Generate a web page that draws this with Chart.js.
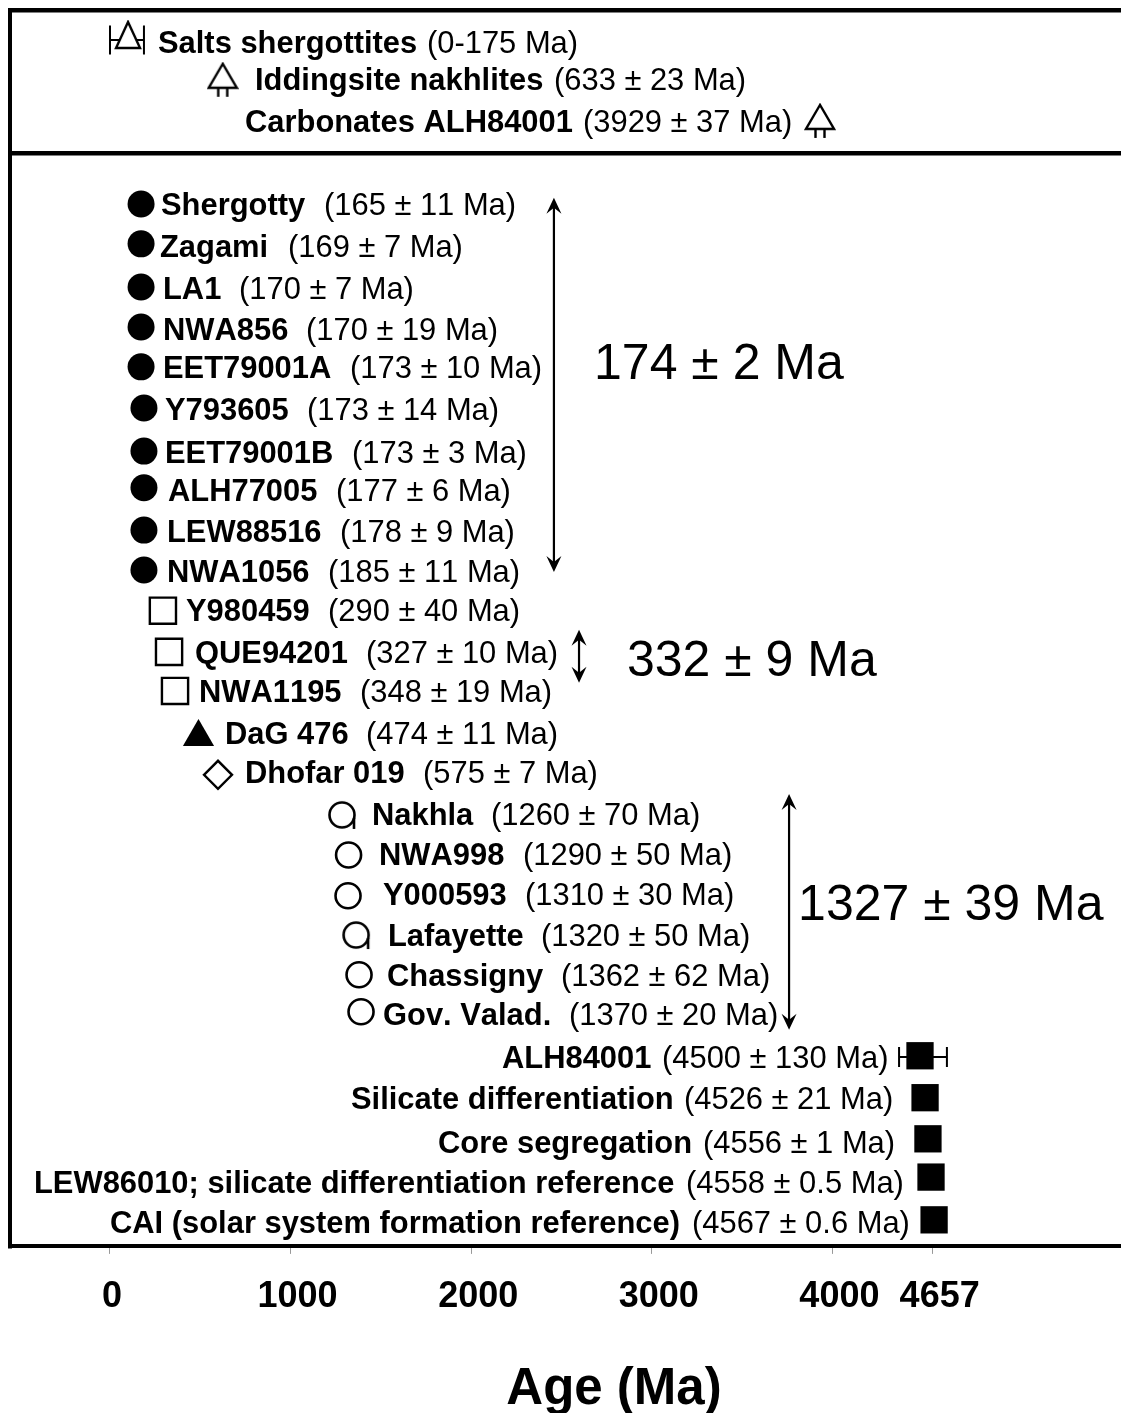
<!DOCTYPE html>
<html>
<head>
<meta charset="utf-8">
<title>Age (Ma)</title>
<script src="https://cdn.jsdelivr.net/npm/chart.js@4"></script>
<style>
    html, body { margin: 0; padding: 0; background: #fff; overflow: hidden; }
    #wrap { width: 1121px; height: 1413px; overflow: hidden; }
    canvas { display: block; }
</style>
</head>
<body>
<!-- the frame runs off the right edge of the figure, so the canvas is wider than the window -->
<div id="wrap"><canvas id="ageChart" width="1218" height="1413"></canvas></div>
<script>
// Data
const names = ['Salts shergottites', 'Iddingsite nakhlites', 'Carbonates ALH84001',
    'Shergotty', 'Zagami', 'LA1', 'NWA856', 'EET79001A', 'Y793605', 'EET79001B', 'ALH77005', 'LEW88516', 'NWA1056',
    'Y980459', 'QUE94201', 'NWA1195', 'DaG 476', 'Dhofar 019',
    'Nakhla', 'NWA998', 'Y000593', 'Lafayette', 'Chassigny', 'Gov. Valad.',
    'ALH84001', 'Silicate differentiation', 'Core segregation',
    'LEW86010; silicate differentiation reference', 'CAI (solar system formation reference)'];
const statedAges = ['(0-175 Ma)', '(633 ± 23 Ma)', '(3929 ± 37 Ma)',
    '(165 ± 11 Ma)', '(169 ± 7 Ma)', '(170 ± 7 Ma)', '(170 ± 19 Ma)', '(173 ± 10 Ma)', '(173 ± 14 Ma)', '(173 ± 3 Ma)', '(177 ± 6 Ma)', '(178 ± 9 Ma)', '(185 ± 11 Ma)',
    '(290 ± 40 Ma)', '(327 ± 10 Ma)', '(348 ± 19 Ma)', '(474 ± 11 Ma)', '(575 ± 7 Ma)',
    '(1260 ± 70 Ma)', '(1290 ± 50 Ma)', '(1310 ± 30 Ma)', '(1320 ± 50 Ma)', '(1362 ± 62 Ma)', '(1370 ± 20 Ma)',
    '(4500 ± 130 Ma)', '(4526 ± 21 Ma)', '(4556 ± 1 Ma)', '(4558 ± 0.5 Ma)', '(4567 ± 0.6 Ma)'];
const markerAges = [100, 624, 3931,
    172, 172, 172, 172, 172, 188, 188, 188, 188, 188,
    293, 327, 360, 490, 598,
    1290, 1321, 1318, 1368, 1379, 1390,
    4485, 4513, 4529, 4546, 4563];
const markerRows = [-4.15, -3.05, -2.04,
    0, 0.98, 2.04, 3.02, 4.0, 5.01, 6.07, 6.97, 8.01, 8.99,
    9.99, 11.0, 11.96, 13.09, 14.02,
    15.03, 15.99, 16.99, 17.98, 18.93, 19.84,
    20.92, 21.95, 22.96, 23.9, 24.95];
const labelRows = [-3.98, -3.07, -2.04,
    0, 1.01, 2.06, 3.05, 4.0, 5.03, 6.07, 7.0, 8.01, 8.99,
    9.97, 11.0, 11.96, 12.97, 13.95,
    14.98, 15.94, 16.94, 17.95, 18.93, 19.87,
    20.95, 21.95, 23.03, 24.02, 25.0];
const kinds = ['salt', 'tree', 'tree',
    'shergottite', 'shergottite', 'shergottite', 'shergottite', 'shergottite', 'shergottite', 'shergottite', 'shergottite', 'shergottite', 'shergottite',
    'openSquare', 'openSquare', 'openSquare', 'triangle', 'diamond',
    'tailCircle', 'openCircle', 'openCircle', 'tailCircle', 'openCircle', 'openCircle',
    'solidSquare', 'solidSquare', 'solidSquare', 'solidSquare', 'solidSquare'];

// Whiskers that stick out of their marker: [from age, to age, row]
const whiskers = [[0, 188, -4.03], [4369, 4634, 20.95]];
// Double arrows: [age, from row, to row]
const arrows = [[2458, -0.15, 9.04], [2597, 10.46, 11.76], [3760, 14.49, 20.28]];
// Group ages: [text, start age, row]
const groupLabels = [['174 ± 2 Ma', 2680, 3.89], ['332 ± 9 Ma', 2862, 11.17], ['1327 ± 39 Ma', 3810, 17.17]];

const tickValues = [0, 1000, 2000, 3000, 4000, 4555];
const tickLabels = ['0 ', '1000', '2000', '3000', '4000', '4657'];
const axisTitle = 'Age (Ma)';
const separatorRow = -1.25;
const rowMin = -4.764;
const rowMax = 25.59;
const ageMin = -553.7;
const ageMax = 6135;

// Text layout, start of each name and of each bracket
const nameX = [158, 255, 245,
    161, 160, 163, 163, 163, 165, 165, 168, 167, 167,
    186, 195, 199, 225, 245,
    372, 379, 383, 388, 387, 383,
    502, 351, 438, 34, 110];
const valueX = [427, 554, 583,
    324, 288, 239, 306, 350, 307, 352, 336, 340, 328,
    328, 366, 360, 366, 423,
    491, 523, 525, 541, 561, 569,
    662, 684, 703, 686, 692];
const capHalfHeights = [14.5, 10];
const textDrop = 3;

const FONT = '"Liberation Sans", Arial, sans-serif';

const makeMarker = (w, h, draw) => {
    const c = document.createElement('canvas');
    c.width = w;
    c.height = h;
    const g = c.getContext('2d');
    g.strokeStyle = '#000';
    g.fillStyle = '#fff';
    g.lineWidth = 2.4;
    draw(g);
    return c;
};

// Open triangle with two little legs
const treeMarker = makeMarker(32, 36, g => {
    g.beginPath();
    g.moveTo(16, 2);
    g.lineTo(2, 26);
    g.lineTo(30, 26);
    g.closePath();
    g.fill();
    g.stroke();
    g.beginPath();
    g.moveTo(11.5, 26);
    g.lineTo(11.5, 35);
    g.moveTo(20.5, 26);
    g.lineTo(20.5, 35);
    g.stroke();
});

const saltMarker = makeMarker(30, 30, g => {
    g.beginPath();
    g.moveTo(15, 2);
    g.lineTo(3, 28);
    g.lineTo(27, 28);
    g.closePath();
    g.fill();
    g.stroke();
});

// Circle with the small tail at the lower right
const tailCircleMarker = makeMarker(32, 32, g => {
    g.lineWidth = 2.6;
    g.beginPath();
    g.arc(15, 15, 12.5, 0, Math.PI * 2);
    g.fill();
    g.stroke();
    g.beginPath();
    g.moveTo(27, 18);
    g.lineTo(27, 29);
    g.stroke();
});

const kindStyles = {
    salt: { pointStyle: saltMarker },
    tree: { pointStyle: treeMarker },
    shergottite: { pointStyle: 'circle', pointRadius: 13.5, pointBackgroundColor: '#000', pointBorderWidth: 0 },
    openSquare: { pointStyle: 'rect', pointRadius: 18.5, pointBackgroundColor: '#fff', pointBorderWidth: 2.4 },
    triangle: { pointStyle: 'triangle', pointRadius: 18, pointBackgroundColor: '#000', pointBorderWidth: 0 },
    diamond: { pointStyle: 'rectRot', pointRadius: 14, pointBackgroundColor: '#fff', pointBorderWidth: 2.4 },
    openCircle: { pointStyle: 'circle', pointRadius: 12.5, pointBackgroundColor: '#fff', pointBorderWidth: 2.6 },
    tailCircle: { pointStyle: tailCircleMarker },
    solidSquare: { pointStyle: 'rect', pointRadius: 19.3, pointBackgroundColor: '#000', pointBorderWidth: 0 }
};

const datasets = Object.keys(kindStyles).map(kind => ({
    label: kind,
    showLine: false,
    pointBorderColor: '#000',
    data: markerAges
        .map((age, i) => ({ x: age, y: markerRows[i], kind: kinds[i] }))
        .filter(p => p.kind === kind),
    ...kindStyles[kind]
}));

const drawArrowHead = (ctx, x, y, dir) => {
    ctx.beginPath();
    ctx.moveTo(x, y);
    ctx.lineTo(x - 7.5, y - dir * 16);
    ctx.lineTo(x, y - dir * 10);
    ctx.lineTo(x + 7.5, y - dir * 16);
    ctx.closePath();
    ctx.fill();
};

// Whiskers go under the markers
const whiskerPlugin = {
    id: 'whiskers',
    beforeDatasetsDraw(chart) {
        const { ctx, scales: { x, y } } = chart;
        ctx.save();
        ctx.strokeStyle = '#000';
        ctx.lineWidth = 2;
        whiskers.forEach(([from, to, row], i) => {
            const x0 = x.getPixelForValue(from);
            const x1 = x.getPixelForValue(to);
            const py = y.getPixelForValue(row);
            const cap = capHalfHeights[i];
            ctx.beginPath();
            ctx.moveTo(x0, py);
            ctx.lineTo(x1, py);
            ctx.moveTo(x0, py - cap);
            ctx.lineTo(x0, py + cap);
            ctx.moveTo(x1, py - cap);
            ctx.lineTo(x1, py + cap);
            ctx.stroke();
        });
        ctx.restore();
    }
};

const annotationPlugin = {
    id: 'annotations',
    afterDatasetsDraw(chart) {
        const { ctx, scales: { x, y } } = chart;
        ctx.save();
        ctx.fillStyle = '#000';
        ctx.strokeStyle = '#000';
        ctx.textBaseline = 'middle';
        ctx.textAlign = 'left';
        ctx.fontKerning = 'none';

        names.forEach((name, i) => {
            const py = y.getPixelForValue(labelRows[i]) + textDrop;
            ctx.font = `bold 30.9px ${FONT}`;
            ctx.fillText(name, nameX[i], py);
            ctx.font = `30.9px ${FONT}`;
            ctx.fillText(statedAges[i], valueX[i], py);
        });

        ctx.font = `50px ${FONT}`;
        groupLabels.forEach(([text, age, row]) => {
            ctx.fillText(text, x.getPixelForValue(age), y.getPixelForValue(row) + textDrop);
        });

        ctx.lineWidth = 2.2;
        arrows.forEach(([age, from, to]) => {
            const px = x.getPixelForValue(age);
            const y0 = y.getPixelForValue(from);
            const y1 = y.getPixelForValue(to);
            ctx.beginPath();
            ctx.moveTo(px, y0 + 8);
            ctx.lineTo(px, y1 - 8);
            ctx.stroke();
            drawArrowHead(ctx, px, y0, -1);
            drawArrowHead(ctx, px, y1, 1);
        });
        ctx.restore();
    }
};

new Chart(document.getElementById('ageChart').getContext('2d'), {
    type: 'scatter',
    data: { datasets },
    plugins: [whiskerPlugin, annotationPlugin],
    options: {
        responsive: false,
        animation: false,
        layout: {
            autoPadding: false,
            padding: { left: 10, right: 0, top: 10, bottom: 0 }
        },
        plugins: {
            legend: { display: false },
            tooltip: { enabled: false }
        },
        scales: {
            x: {
                type: 'linear',
                min: ageMin,
                max: ageMax,
                afterBuildTicks: axis => {
                    axis.ticks = tickValues.map(value => ({ value }));
                },
                border: { color: '#000', width: 4 },
                grid: {
                    drawOnChartArea: false,
                    drawTicks: true,
                    tickLength: 8,
                    tickColor: '#999',
                    tickWidth: 1
                },
                ticks: {
                    autoSkip: false,
                    maxRotation: 0,
                    padding: 22,
                    labelOffset: 7,
                    color: '#000',
                    font: { family: FONT, size: 36, weight: 'bold' },
                    callback: value => tickLabels[tickValues.indexOf(value)]
                },
                title: {
                    display: true,
                    text: axisTitle,
                    color: '#000',
                    font: { family: FONT, size: 51, weight: 'bold', lineHeight: 0.9 },
                    padding: { top: 26, bottom: 0 }
                }
            },
            y: {
                type: 'linear',
                reverse: true,
                min: rowMin,
                max: rowMax,
                afterBuildTicks: axis => {
                    axis.ticks = [rowMin, separatorRow].map(value => ({ value }));
                },
                border: { color: '#000', width: 4 },
                grid: { color: '#000', lineWidth: 4.5, drawTicks: false },
                ticks: { display: false }
            }
        }
    }
});
</script>
</body>
</html>
